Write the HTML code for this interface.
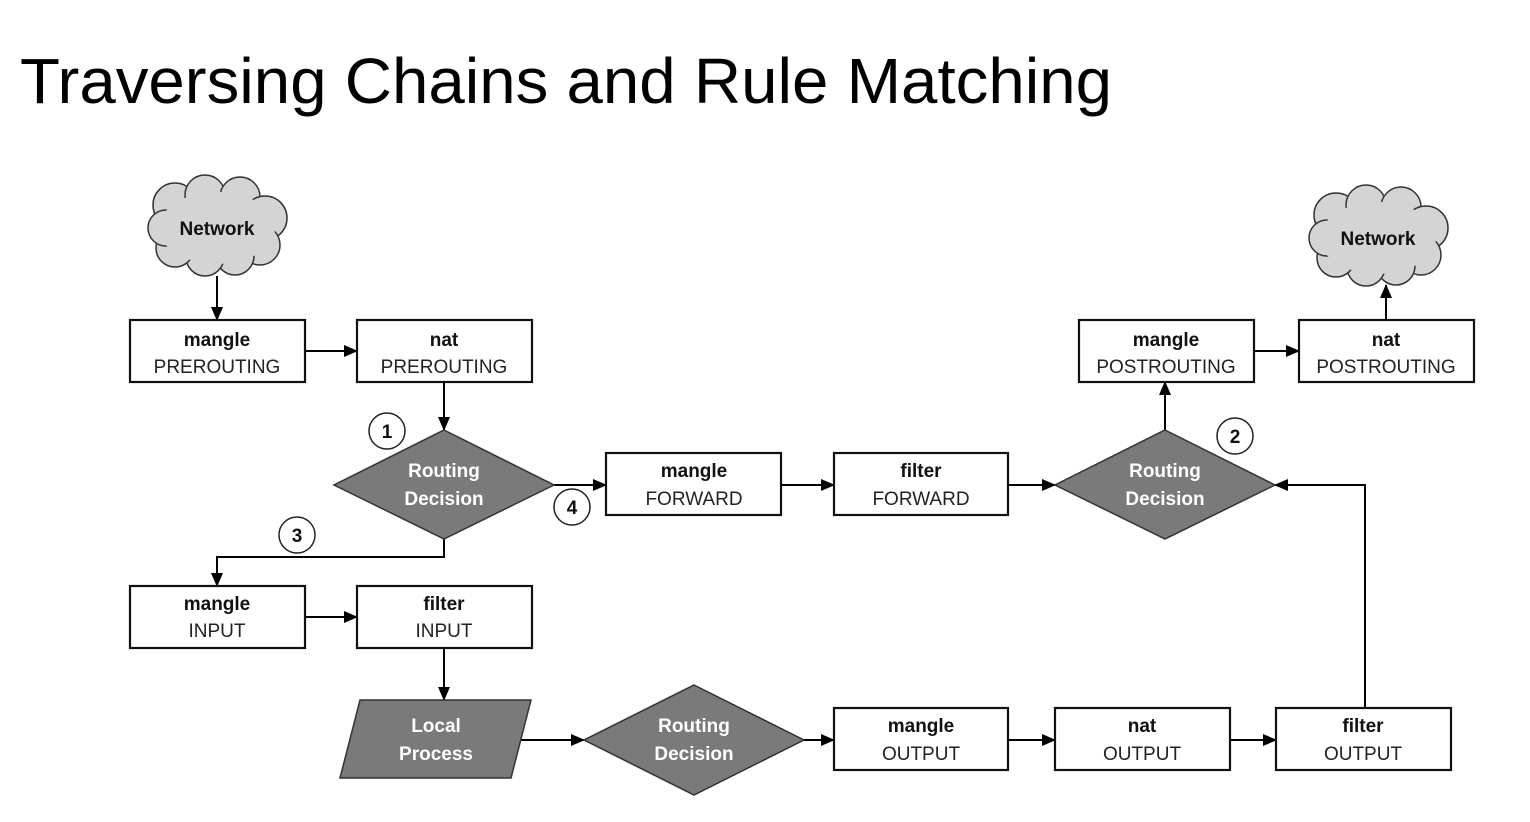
<!DOCTYPE html>
<html><head><meta charset="utf-8"><style>
html,body{margin:0;padding:0;background:#fff;}
svg{display:block;}
text{font-family:"Liberation Sans",sans-serif;}
.b{font-weight:bold;font-size:19px;fill:#111;}
.n{font-size:19px;fill:#222;}
.w{font-weight:bold;font-size:19px;fill:#fff;}
.box{fill:#fff;stroke:#111;stroke-width:2.2;}
.ln{stroke:#000;stroke-width:2;fill:none;}
.dm{fill:#7a7a7a;stroke:#333;stroke-width:1.5;}
.c{fill:#fff;stroke:#222;stroke-width:1.5;}
.cn{font-weight:bold;font-size:19px;fill:#111;}
</style></head><body>
<svg width="1530" height="822" viewBox="0 0 1530 822" xmlns="http://www.w3.org/2000/svg">
<defs>
<marker id="ar" markerWidth="14" markerHeight="14" refX="13" refY="7" orient="auto" markerUnits="userSpaceOnUse">
<path d="M0,1 L14,7 L0,13 z" fill="#000"/>
</marker>
</defs>
<text x="20" y="103" font-size="64" textLength="1092" lengthAdjust="spacingAndGlyphs" fill="#000">Traversing Chains and Rule Matching</text>

<g fill="#d4d4d4" stroke="#333" stroke-width="1.5">
<circle cx="175" cy="205" r="22"/><circle cx="205" cy="195" r="20"/><circle cx="240" cy="197" r="20"/>
<circle cx="265" cy="218" r="22"/><circle cx="260" cy="245" r="20"/><circle cx="235" cy="256" r="19"/>
<circle cx="205" cy="257" r="19"/><circle cx="175" cy="248" r="19"/><circle cx="166" cy="228" r="18"/>
<ellipse cx="217" cy="228" rx="58" ry="36" stroke="none"/>
</g>
<g fill="#d4d4d4" stroke="#333" stroke-width="1.5" transform="translate(1161,10)">
<circle cx="175" cy="205" r="22"/><circle cx="205" cy="195" r="20"/><circle cx="240" cy="197" r="20"/>
<circle cx="265" cy="218" r="22"/><circle cx="260" cy="245" r="20"/><circle cx="235" cy="256" r="19"/>
<circle cx="205" cy="257" r="19"/><circle cx="175" cy="248" r="19"/><circle cx="166" cy="228" r="18"/>
<ellipse cx="217" cy="228" rx="58" ry="36" stroke="none"/>
</g>
<text class="b" x="217" y="235" text-anchor="middle">Network</text>
<text class="b" x="1378" y="245" text-anchor="middle">Network</text>

<line class="ln" x1="217" y1="276" x2="217" y2="320" marker-end="url(#ar)"/>
<line class="ln" x1="305" y1="351" x2="357" y2="351" marker-end="url(#ar)"/>
<line class="ln" x1="444" y1="382" x2="444" y2="430" marker-end="url(#ar)"/>
<line class="ln" x1="554" y1="485" x2="606" y2="485" marker-end="url(#ar)"/>
<polyline class="ln" points="444,539 444,557 217,557 217,586" marker-end="url(#ar)"/>
<line class="ln" x1="305" y1="617" x2="357" y2="617" marker-end="url(#ar)"/>
<line class="ln" x1="444" y1="648" x2="444" y2="700" marker-end="url(#ar)"/>
<line class="ln" x1="521" y1="740" x2="584" y2="740" marker-end="url(#ar)"/>
<line class="ln" x1="804" y1="740" x2="834" y2="740" marker-end="url(#ar)"/>
<line class="ln" x1="1008" y1="740" x2="1055" y2="740" marker-end="url(#ar)"/>
<line class="ln" x1="1230" y1="740" x2="1276" y2="740" marker-end="url(#ar)"/>
<polyline class="ln" points="1365,708 1365,485 1275,485" marker-end="url(#ar)"/>
<line class="ln" x1="781" y1="485" x2="834" y2="485" marker-end="url(#ar)"/>
<line class="ln" x1="1008" y1="485" x2="1055" y2="485" marker-end="url(#ar)"/>
<line class="ln" x1="1165" y1="430" x2="1165" y2="382" marker-end="url(#ar)"/>
<line class="ln" x1="1254" y1="351" x2="1299" y2="351" marker-end="url(#ar)"/>
<line class="ln" x1="1386" y1="320" x2="1386" y2="285" marker-end="url(#ar)"/>

<g>
<rect class="box" x="130" y="320" width="175" height="62"/><text class="b" x="217" y="346" text-anchor="middle">mangle</text><text class="n" x="217" y="373" text-anchor="middle">PREROUTING</text>
<rect class="box" x="357" y="320" width="175" height="62"/><text class="b" x="444" y="346" text-anchor="middle">nat</text><text class="n" x="444" y="373" text-anchor="middle">PREROUTING</text>
<rect class="box" x="1079" y="320" width="175" height="62"/><text class="b" x="1166" y="346" text-anchor="middle">mangle</text><text class="n" x="1166" y="373" text-anchor="middle">POSTROUTING</text>
<rect class="box" x="1299" y="320" width="175" height="62"/><text class="b" x="1386" y="346" text-anchor="middle">nat</text><text class="n" x="1386" y="373" text-anchor="middle">POSTROUTING</text>
<rect class="box" x="606" y="453" width="175" height="62"/><text class="b" x="694" y="477" text-anchor="middle">mangle</text><text class="n" x="694" y="505" text-anchor="middle">FORWARD</text>
<rect class="box" x="834" y="453" width="174" height="62"/><text class="b" x="921" y="477" text-anchor="middle">filter</text><text class="n" x="921" y="505" text-anchor="middle">FORWARD</text>
<rect class="box" x="130" y="586" width="175" height="62"/><text class="b" x="217" y="610" text-anchor="middle">mangle</text><text class="n" x="217" y="637" text-anchor="middle">INPUT</text>
<rect class="box" x="357" y="586" width="175" height="62"/><text class="b" x="444" y="610" text-anchor="middle">filter</text><text class="n" x="444" y="637" text-anchor="middle">INPUT</text>
<rect class="box" x="834" y="708" width="174" height="62"/><text class="b" x="921" y="732" text-anchor="middle">mangle</text><text class="n" x="921" y="760" text-anchor="middle">OUTPUT</text>
<rect class="box" x="1055" y="708" width="175" height="62"/><text class="b" x="1142" y="732" text-anchor="middle">nat</text><text class="n" x="1142" y="760" text-anchor="middle">OUTPUT</text>
<rect class="box" x="1276" y="708" width="175" height="62"/><text class="b" x="1363" y="732" text-anchor="middle">filter</text><text class="n" x="1363" y="760" text-anchor="middle">OUTPUT</text>
</g>

<polygon class="dm" points="444,430 554,485 444,539 334,485"/>
<text class="w" x="444" y="477" text-anchor="middle">Routing</text><text class="w" x="444" y="505" text-anchor="middle">Decision</text>
<polygon class="dm" points="1165,430 1275,485 1165,539 1055,485"/>
<text class="w" x="1165" y="477" text-anchor="middle">Routing</text><text class="w" x="1165" y="505" text-anchor="middle">Decision</text>
<polygon class="dm" points="694,685 804,740 694,795 584,740"/>
<text class="w" x="694" y="732" text-anchor="middle">Routing</text><text class="w" x="694" y="760" text-anchor="middle">Decision</text>
<polygon class="dm" points="360,700 531,700 511,778 340,778"/>
<text class="w" x="436" y="732" text-anchor="middle">Local</text><text class="w" x="436" y="760" text-anchor="middle">Process</text>

<circle class="c" cx="387" cy="431" r="18"/><text class="cn" x="387" y="438" text-anchor="middle">1</text>
<circle class="c" cx="1235" cy="436" r="18"/><text class="cn" x="1235" y="443" text-anchor="middle">2</text>
<circle class="c" cx="297" cy="535" r="18"/><text class="cn" x="297" y="542" text-anchor="middle">3</text>
<circle class="c" cx="572" cy="507" r="18"/><text class="cn" x="572" y="514" text-anchor="middle">4</text>
</svg>
</body></html>
